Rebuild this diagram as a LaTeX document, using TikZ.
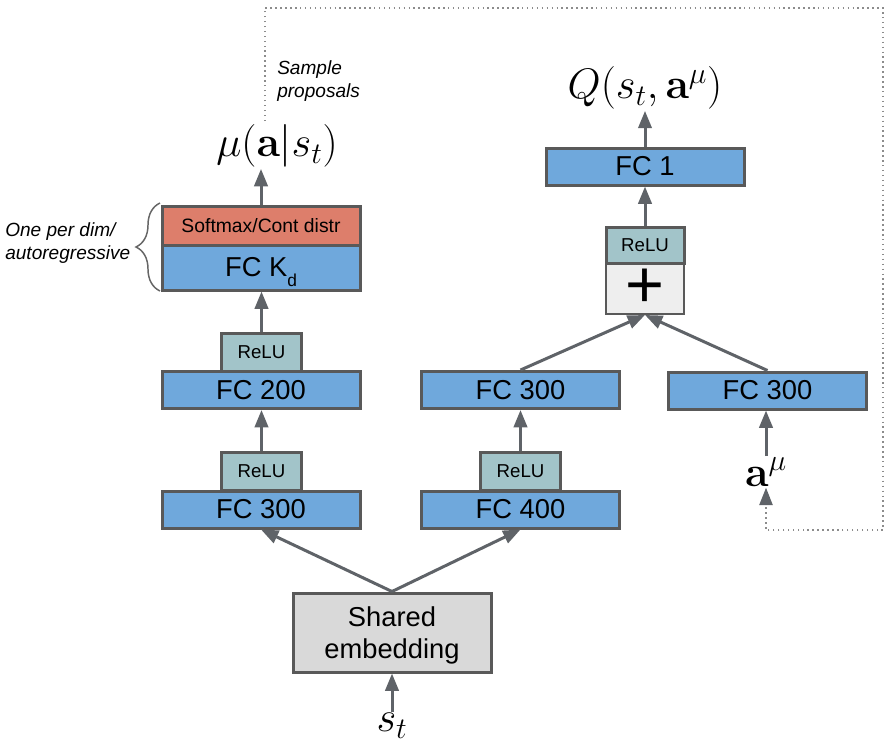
\RequirePackage{fix-cm}
\documentclass[tikz,border=0pt]{standalone}
\usepackage[no-math]{fontspec}
\setmainfont{Liberation Sans}
\usetikzlibrary{arrows.meta,decorations.pathreplacing}
\definecolor{fcblue}{HTML}{6FA8DC}
\definecolor{softred}{HTML}{DD7E6B}
\definecolor{relucol}{HTML}{A2C4C9}
\definecolor{sharedcol}{HTML}{D9D9D9}
\definecolor{pluscol}{HTML}{EEEEEE}
\definecolor{bordc}{HTML}{595959}
\definecolor{arrc}{HTML}{5F6368}
\definecolor{dotc}{HTML}{8C8C8C}
\definecolor{bracec}{HTML}{666666}
\begin{document}
\begin{tikzpicture}[x=0.75pt,y=-0.75pt,
  box/.style={draw=bordc, line width=2.25pt, inner sep=0pt, text=black, font=\fontsize{20.5}{24.5}\selectfont},
  fc/.style={box, fill=fcblue, minimum width=148.5pt, minimum height=27.75pt},
  relu/.style={box, fill=relucol, minimum width=60pt, minimum height=28.5pt, font=\fontsize{14}{17}\selectfont},
  arr/.style={draw=arrc, line width=2.25pt, -{Triangle[width=10pt,length=13pt]}},
  mathlbl/.style={inner sep=1pt, font=\fontsize{32}{37}\selectfont},
  note/.style={inner sep=0pt, align=left, font=\fontsize{14.3}{17.25}\selectfont\itshape},
  dotline/.style={draw=dotc, line width=1.1pt, dash pattern=on 1.1pt off 2.6pt}]
\useasboundingbox (0,0) rectangle (889,746);

% left column
\node[fc] (fc300L) at (261,509.5) {FC 300};
\node[relu] (relu1) at (261.5,471.5) {ReLU};
\node[fc] (fc200) at (261,390) {FC 200};
\node[relu] (relu2) at (261.5,352) {ReLU};
\node[fc, minimum height=33.75pt] (fckd) at (261,267.5) {FC K\smash{\raisebox{-7pt}{\fontsize{13}{13}\selectfont d}}};
\node[fc, fill=softred, minimum height=29.25pt, font=\fontsize{14.5}{17}\selectfont] (soft) at (261,225.5) {Softmax/Cont distr};

% middle / right
\node[fc] (fc400) at (520.5,509.5) {FC 400};
\node[relu] (relu3) at (520.5,471.5) {ReLU};
\node[fc] (fc300M) at (520.5,390) {FC 300};
\node[fc] (fc300R) at (767.5,390.5) {FC 300};
\node[box, fill=pluscol, line width=1.5pt, minimum width=58.5pt, minimum height=38.25pt] (plus) at (645,288.5) {\fontsize{50}{50}\selectfont +};
\node[relu, minimum width=58.5pt, minimum height=27pt] (relu4) at (645,245) {ReLU};
\node[fc] (fc1) at (645,166.5) {FC 1};
\node[box, fill=sharedcol, minimum width=148.5pt, minimum height=59.25pt, align=center, text depth=0pt] (shared) at (392,632.5) {Shared\\embedding};

% math labels
\node[mathlbl] (mu) at (277,146) {$\mu(\mathbf{a}|s_t)$};
\node[mathlbl] (Q) at (645,88) {$Q(s_t,\mathbf{a}^\mu)$};
\node[mathlbl] (amu) at (766,472) {$\mathbf{a}^\mu$};
\node[mathlbl] (st) at (392,726) {$s_t$};

% notes
\node[note, anchor=north west] (samp) at (277,60) {Sample\\proposals};
\node[note, anchor=north west] (oneper) at (5,222) {One per dim/\\autoregressive};

% brace
\draw[draw=bracec, line width=1.1pt, decorate, decoration={brace, amplitude=18pt}] (160,291) -- (160,203);

% arrows
\draw[arr] (st) -- (shared);
\draw[arr] (shared.north) -- (fc300L.south);
\draw[arr] (shared.north) -- (fc400.south);
\draw[arr] (relu1.north) -- (relu1.north |- fc200.south);
\draw[arr] (relu2.north) -- (relu2.north |- fckd.south);
\draw[arr] (soft.north) -- (soft.north |- mu.south);
\draw[arr] (relu3.north) -- (relu3.north |- fc300M.south);
\draw[arr] (fc300M.north) -- (plus.south);
\draw[arr] (fc300R.north) -- (plus.south);
\draw[arr] (amu) -- (amu |- fc300R.south);
\draw[arr] (relu4) -- (fc1);
\draw[arr] (fc1) -- (Q);

% dotted feedback
\coordinate (d0) at (265,121);
\coordinate (d1) at (265,8);
\coordinate (d2) at (883,8);
\coordinate (d3) at (883,530);
\coordinate (d4) at (766,530);
\draw[dotline, -{Triangle[width=10pt,length=13pt,color=arrc]}] (d0) -- (d1) -- (d2) -- (d3) -- (d4) -- (amu.south);
\end{tikzpicture}
\end{document}
